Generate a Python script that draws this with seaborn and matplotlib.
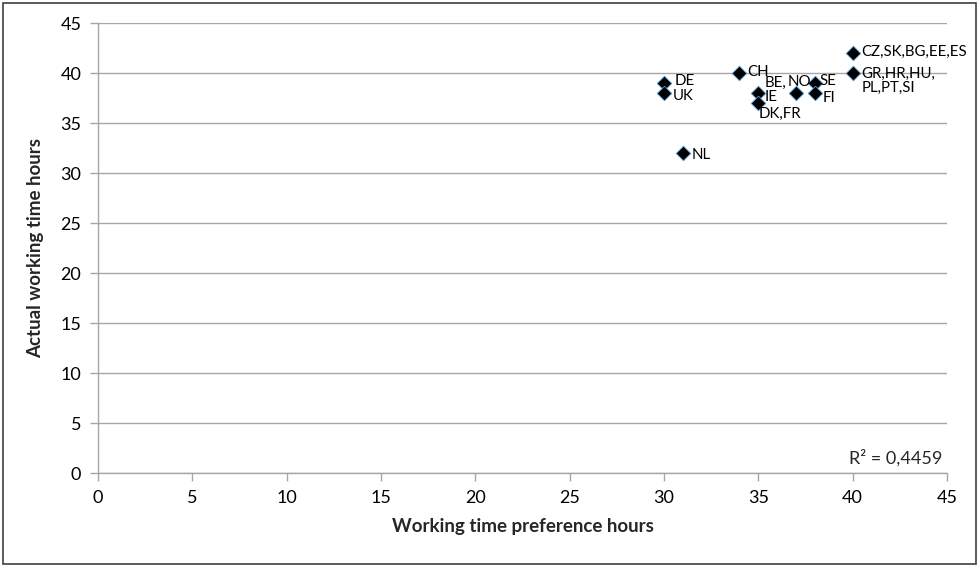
import matplotlib
matplotlib.use("Agg")
import matplotlib.pyplot as plt
import seaborn as sns
import pandas as pd
from matplotlib.patches import Rectangle

# Data
labels = ["DE", "UK", "CH", "BE,\nIE", "DK,FR", "NO", "SE", "FI",
          "CZ,SK,BG,EE,ES", "GR,HR,HU,\nPL,PT,SI", "NL"]
preference_hours = [30, 30, 34, 35, 35, 37, 38, 38, 40, 40, 31]
actual_hours = [39, 38, 40, 38, 37, 38, 39, 38, 42, 40, 32]
x_ticks = [0, 5, 10, 15, 20, 25, 30, 35, 40, 45]
y_ticks = [0, 5, 10, 15, 20, 25, 30, 35, 40, 45]
r2_text = "R² = 0,4459"

df = pd.DataFrame({"x": preference_hours, "y": actual_hours, "label": labels})

# label offsets in pixels (style, not data)
offsets = {
    "DE": (11, 2, "left", "center"),
    "UK": (9, -3, "left", "center"),
    "CH": (8, 1, "left", "center"),
    "BE,\nIE": (6, 3, "left", "center"),
    "DK,FR": (0, -11, "left", "center"),
    "NO": (-8, 11, "left", "center"),
    "SE": (5, 2, "left", "center"),
    "FI": (8, -5, "left", "center"),
    "CZ,SK,BG,EE,ES": (9, 1, "left", "center"),
    "GR,HR,HU,\nPL,PT,SI": (9, -8, "left", "center"),
    "NL": (9, -2, "left", "center"),
}

sns.set_theme(style="white")
plt.rcParams["font.family"] = ["Lato", "DejaVu Sans"]

fig = plt.figure(figsize=(9.77, 5.65), dpi=100)
ax = fig.add_axes([98 / 977, 1 - 473 / 565, (947 - 98) / 977, (473 - 23) / 565])

sns.scatterplot(data=df, x="x", y="y", marker="D", s=55, color="black",
                edgecolor="#5b9bd5", linewidth=0.6, ax=ax, zorder=3)

for _, r in df.iterrows():
    dx, dy, ha, va = offsets[r["label"]]
    ax.annotate(r["label"], (r["x"], r["y"]), xytext=(dx, dy),
                textcoords="offset pixels", ha=ha, va=va, fontsize=10.8,
                color="black", linespacing=1.0)

ax.set_xlim(0, 45)
ax.set_ylim(0, 45)
ax.set_xticks(x_ticks)
ax.set_yticks(y_ticks)
ax.tick_params(axis="both", labelsize=13, colors="black", length=6,
               width=1, direction="out", bottom=True, left=True, pad=6)
ax.tick_params(axis="both", color="#a6a6a6")
ax.yaxis.grid(True, color="#a6a6a6", linewidth=1)
ax.xaxis.grid(False)
ax.set_axisbelow(True)
for s in ["top", "right"]:
    ax.spines[s].set_visible(False)
for s in ["left", "bottom"]:
    ax.spines[s].set_color("#a6a6a6")
    ax.spines[s].set_linewidth(1)

ax.set_xlabel("Working time preference hours", fontsize=13.5, fontweight="bold", labelpad=9)
ax.set_ylabel("Actual working time hours", fontsize=13.5, fontweight="bold", labelpad=12)

ax.text(0.995, 0.015, r2_text, transform=ax.transAxes, ha="right", va="bottom", fontsize=13)

fig.patches.append(Rectangle((3 / 977, 1 / 565), 973 / 977, 561 / 565, transform=fig.transFigure,
                             fill=False, edgecolor="#404040", linewidth=1.2))

fig.savefig("out.png", dpi=100)
